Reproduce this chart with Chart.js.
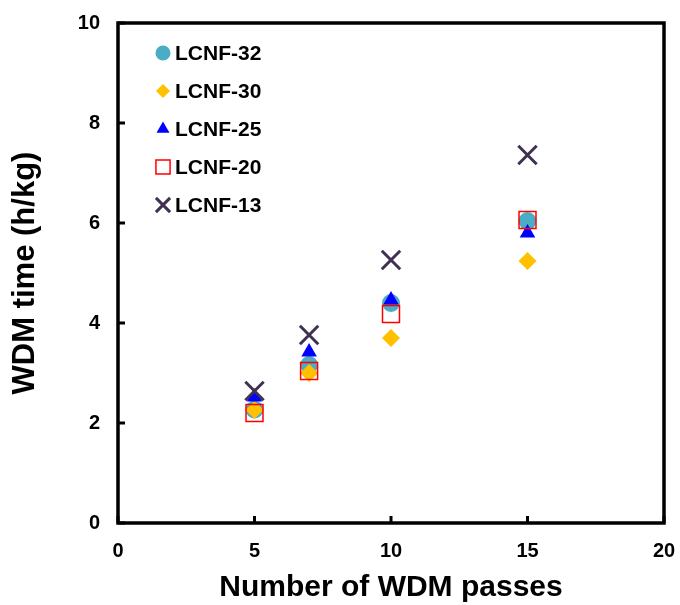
<!DOCTYPE html>
<html>
<head>
<meta charset="utf-8">
<script src="https://cdn.jsdelivr.net/npm/chart.js@4.4.1/dist/chart.umd.min.js"></script>
<style>
  html, body { margin: 0; padding: 0; background: #fff; }
  #wrap { width: 680px; height: 605px; }
</style>
</head>
<body>
<div id="wrap"><canvas id="wdmChart"></canvas></div>
<script>
const passes = [5, 7, 10, 15];
const seriesNames = ['LCNF-32', 'LCNF-30', 'LCNF-25', 'LCNF-20', 'LCNF-13'];
const lcnf32 = [2.27, 3.16, 4.40, 6.04];
const lcnf30 = [2.26, 3.00, 3.70, 5.24];
const lcnf25 = [2.52, 3.42, 4.46, 5.80];
const lcnf20 = [2.20, 3.04, 4.18, 6.06];
const lcnf13 = [2.64, 3.76, 5.26, 7.36];
const xTicks = [0, 5, 10, 15, 20];
const yTicks = [0, 2, 4, 6, 8, 10];

const FONT = 'Arial, "Liberation Sans", sans-serif';

function pts(vals) {
  return passes.map((p, i) => ({ x: p, y: vals[i] }));
}

const styles = [
  { pointStyle: 'circle',   pointRadius: 9,  legendRadius: 7.5, backgroundColor: '#4BACC6', borderColor: '#4BACC6', pointBorderWidth: 0 },
  { pointStyle: 'rectRot',  pointRadius: 9,  legendRadius: 7,   backgroundColor: '#FFC000', borderColor: '#FFC000', pointBorderWidth: 0 },
  { pointStyle: 'triangle', pointRadius: 9,  legendRadius: 7.5, backgroundColor: '#0000FF', borderColor: '#0000FF', pointBorderWidth: 0 },
  { pointStyle: 'rect',     pointRadius: 12, legendRadius: 10,  backgroundColor: 'rgba(0,0,0,0)', borderColor: '#FF0000', pointBorderWidth: 1.5 },
  { pointStyle: 'crossRot', pointRadius: 13, legendRadius: 10,  backgroundColor: '#403152', borderColor: '#403152', pointBorderWidth: 3 }
];
const values = [lcnf32, lcnf30, lcnf25, lcnf20, lcnf13];

const datasets = seriesNames.map((name, i) => Object.assign({
  label: name,
  data: pts(values[i]),
  showLine: false,
  order: 4 - i
}, styles[i]));

// box around plot + inward tick marks
const frame = {
  id: 'frame',
  afterDatasetsDraw(chart) {
    const { ctx, chartArea: a, scales } = chart;
    ctx.save();
    ctx.strokeStyle = '#000';
    ctx.lineWidth = 3;
    yTicks.forEach(v => {
      const y = scales.y.getPixelForValue(v);
      ctx.beginPath(); ctx.moveTo(a.left, y); ctx.lineTo(a.left + 7, y); ctx.stroke();
    });
    xTicks.forEach(v => {
      const x = scales.x.getPixelForValue(v);
      ctx.beginPath(); ctx.moveTo(x, a.bottom); ctx.lineTo(x, a.bottom - 7); ctx.stroke();
    });
    ctx.lineWidth = 3.5;
    ctx.strokeRect(a.left, a.top, a.right - a.left, a.bottom - a.top);
    ctx.restore();
  }
};

// legend inside the plot, top-left
const innerLegend = {
  id: 'innerLegend',
  afterDraw(chart) {
    const ctx = chart.ctx;
    ctx.save();
    ctx.font = 'bold 21px ' + FONT;
    ctx.textBaseline = 'middle';
    chart.data.datasets.forEach((ds, i) => {
      const y = 53 + i * 38;
      ctx.fillStyle = ds.backgroundColor;
      ctx.strokeStyle = ds.borderColor;
      ctx.lineWidth = ds.pointBorderWidth;
      Chart.helpers.drawPoint(ctx, {
        pointStyle: ds.pointStyle,
        radius: ds.legendRadius,
        borderWidth: ds.pointBorderWidth,
        rotation: 0
      }, 163, y);
      ctx.fillStyle = '#000';
      ctx.fillText(ds.label, 175, y + 1);
    });
    ctx.restore();
  }
};

new Chart(document.getElementById('wdmChart'), {
  type: 'scatter',
  data: { datasets: datasets },
  plugins: [frame, innerLegend],
  options: {
    responsive: true,
    maintainAspectRatio: false,
    animation: false,
    layout: { padding: { top: 23, right: 14, left: 0, bottom: 0 } },
    plugins: {
      legend: { display: false },
      tooltip: { enabled: false }
    },
    scales: {
      x: {
        min: 0, max: 20,
        afterBuildTicks: s => { s.ticks = xTicks.map(v => ({ value: v })); },
        afterFit: s => { s.height = 82; s.paddingLeft = 0; s.paddingRight = 0; },
        grid: { display: false, drawTicks: false },
        border: { display: false },
        ticks: { padding: 16, color: '#000', font: { family: FONT, size: 20, weight: 'bold' } },
        title: {
          display: true,
          text: 'Number of WDM passes',
          color: '#000',
          font: { family: FONT, size: 30, weight: 'bold', lineHeight: 1 },
          padding: { top: 0, bottom: 2 }
        }
      },
      y: {
        min: 0, max: 10,
        afterBuildTicks: s => { s.ticks = yTicks.map(v => ({ value: v })); },
        afterFit: s => { s.width = 118; s.paddingTop = 0; s.paddingBottom = 0; },
        grid: { display: false, drawTicks: false },
        border: { display: false },
        ticks: { padding: 18, color: '#000', font: { family: FONT, size: 20, weight: 'bold' } },
        title: {
          display: true,
          text: 'WDM time (h/kg)',
          color: '#000',
          font: { family: FONT, size: 31, weight: 'bold', lineHeight: 1 },
          padding: { top: 10, bottom: 0 }
        }
      }
    }
  }
});
</script>
</body>
</html>
